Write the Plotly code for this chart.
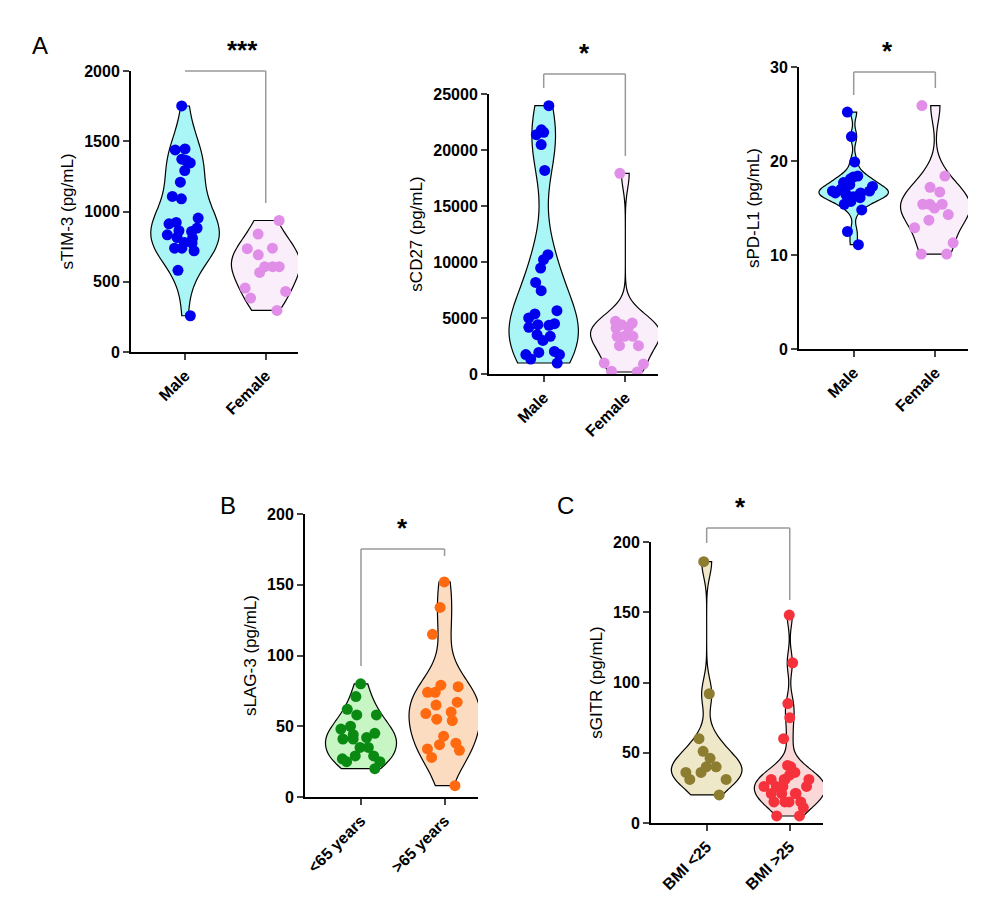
import plotly.graph_objects as go

W, H = 992, 913

# ---- data ----
tim3_male = [1751, 1438, 1445, 1372, 1363, 1346, 1291, 1209, 1107, 1090, 953, 912, 922,
             882, 858, 863, 834, 815, 810, 780, 775, 739, 739, 720, 581, 258]
tim3_female = [936, 839, 739, 735, 692, 607, 607, 607, 566, 455, 431, 384, 296]
cd27_male = [23960, 21800, 21580, 21370, 20480, 18180, 10650, 10210, 9460, 8180, 7440, 5650,
             5360, 5000, 4490, 4400, 4350, 4170, 3510, 3360, 3000, 2020, 1930, 1730, 1730, 1340, 980]
cd27_female = [17920, 4700, 4550, 4400, 4100, 4170, 3360, 3360, 3360, 2530, 2530, 980, 890, 240, 180]
pdl1_male = [25.2, 22.6, 19.9, 18.4, 18.3, 18.1, 17.7, 17.5, 17.3, 17.0, 16.8, 16.8, 16.6,
             16.6, 16.6, 16.4, 16.4, 16.2, 16.1, 15.7, 15.4, 14.8, 12.5, 11.1]
pdl1_female = [25.9, 18.4, 17.2, 16.7, 15.4, 15.4, 15.4, 15.0, 14.3, 13.7, 12.9, 11.3, 10.1, 10.1]
lag3_young = [80, 71, 62, 58, 58, 50, 48, 45, 44, 42, 41, 41, 35, 35, 29, 29, 27, 25, 25, 20]
lag3_old = [152, 134, 115, 78, 79, 74, 74, 67, 65, 60, 59, 55, 54, 43, 38, 37, 33, 34, 28, 8]
gitr_low = [186, 92, 60, 51, 46, 40, 40, 36, 36, 31, 31, 20]
gitr_high = [148, 114, 85, 75, 60, 41, 40, 36, 34, 31, 31, 31, 31, 26, 26, 26, 26,
             21, 21, 21, 21, 15, 15, 15, 15, 11, 5, 5]

sex_labels = ["Male", "Female"]
age_labels = ["<65 years", ">65 years"]
bmi_labels = ["BMI <25", "BMI >25"]

# panel: groups, labels, fills, dots, ytitle, yrange, dtick, stars, pixel box, bracket pixels
panels = [
    ([tim3_male, tim3_female], sex_labels, ["#aaf5f5", "#fbeefb"], ["#0000ee", "#e08ee8"],
     "sTIM-3 (pg/mL)", [0, 2000], 500, "***", (123, 290, 63, 344), (63, 63, 195)),
    ([cd27_male, cd27_female], sex_labels, ["#aaf5f5", "#fbeefb"], ["#0000ee", "#e08ee8"],
     "sCD27 (pg/mL)", [0, 25000], 5000, "*", (481, 650, 86, 366), (66, 80, 148)),
    ([pdl1_male, pdl1_female], sex_labels, ["#aaf5f5", "#fbeefb"], ["#0000ee", "#e08ee8"],
     "sPD-L1 (pg/mL)", [0, 30], 10, "*", (791, 960, 59, 341), (64, 87, 80)),
    ([lag3_young, lag3_old], age_labels, ["#c8f5c4", "#fcdcc0"], ["#0a8a12", "#ff6a10"],
     "sLAG-3 (pg/mL)", [0, 200], 50, "*", (297, 470, 506, 789), (541, 658, 548)),
    ([gitr_low, gitr_high], bmi_labels, ["#efe8c8", "#fbd8d8"], ["#8c7d30", "#f5323c"],
     "sGITR (pg/mL)", [0, 200], 50, "*", (643, 815, 534, 815), (520, 535, 592)),
]

fig = go.Figure()
font = "Liberation Sans, Arial"

for i, (groups, labels, fills, dots, ytitle, yr, dt, stars, box, br) in enumerate(panels):
    x0, x1, yt, yb = box
    ax = "" if i == 0 else str(i + 1)
    for g, lab, fc, dc in zip(groups, labels, fills, dots):
        fig.add_trace(go.Violin(
            x=[lab] * len(g), y=g, xaxis="x" + ax, yaxis="y" + ax,
            fillcolor=fc, line=dict(color="black", width=1.2), opacity=1,
            points="all", pointpos=0, jitter=0.75, width=0.85, spanmode="hard",
            marker=dict(color=dc, size=11), showlegend=False, hoveron="points"))
    fig.update_layout(**{
        "xaxis" + ax: dict(domain=[x0 / W, x1 / W], type="category", range=[-0.67, 1.4],
                           showline=True, linecolor="black", linewidth=2, ticks="outside",
                           tickwidth=2, ticklen=6, tickangle=-45, showgrid=False, automargin=False,
                           tickfont=dict(size=16, family=font, color="black", weight="bold"),
                           anchor="y" + ax, categoryorder="array", categoryarray=labels),
        "yaxis" + ax: dict(domain=[1 - yb / H, 1 - yt / H], range=yr, dtick=dt, tickformat="d",
                           showline=True, linecolor="black", linewidth=2, ticks="outside",
                           tickwidth=2, ticklen=6, showgrid=False, zeroline=False, automargin=False,
                           tickfont=dict(size=16, family=font, color="black", weight="bold"),
                           title=dict(text=ytitle, font=dict(size=17, family=font, color="black"),
                                      standoff=6),
                           anchor="x" + ax),
    })
    # significance bracket (pixel positions of the two category centres)
    span = x1 - x0
    c0 = x0 + span * 0.67 / 2.07
    c1 = x0 + span * 1.67 / 2.07
    ybr, yl, yr_ = br
    col = "#999999"
    for xs, ys in [((c0, c0), (ybr, yl)), ((c0, c1), (ybr, ybr)), ((c1, c1), (ybr, yr_))]:
        fig.add_shape(type="line", xref="paper", yref="paper",
                      x0=xs[0] / W, x1=xs[1] / W, y0=1 - ys[0] / H, y1=1 - ys[1] / H,
                      line=dict(color=col, width=1.5))
    fig.add_annotation(xref="paper", yref="paper", x=(c0 + c1) / 2 / W, y=1 - (ybr - 4) / H,
                       yanchor="bottom", text="<b>" + stars + "</b>", showarrow=False,
                       font=dict(size=26, family=font, color="black"))

for letter, px, py in [("A", 22, 22), ("B", 210, 497), ("C", 557, 497)]:
    fig.add_annotation(xref="paper", yref="paper", x=px / W, y=1 - py / H, text=letter,
                       showarrow=False, font=dict(size=24, family=font, color="black"))

fig.update_layout(width=W, height=H, margin=dict(l=0, r=0, t=0, b=0),
                  plot_bgcolor="white", paper_bgcolor="white", violingap=0.2)
fig.write_html("out.html")
